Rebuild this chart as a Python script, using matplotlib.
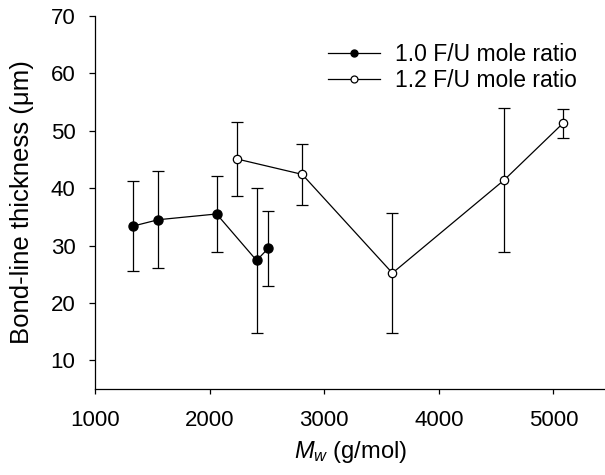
import matplotlib
matplotlib.use("Agg")
import matplotlib.pyplot as plt
from matplotlib.lines import Line2D

plt.rcParams['font.family'] = ['Liberation Sans', 'DejaVu Sans']
plt.rcParams['mathtext.fontset'] = 'custom'
plt.rcParams['mathtext.rm'] = 'Liberation Sans'
plt.rcParams['mathtext.it'] = 'Liberation Sans:italic'

mw_10 = [1334, 1552, 2061, 2410, 2511]
thk_10 = [33.4, 34.5, 35.5, 27.4, 29.5]
err_10 = [7.8, 8.5, 6.6, 12.6, 6.5]

mw_12 = [2235, 2808, 3595, 4569, 5083]
thk_12 = [45.1, 42.4, 25.2, 41.4, 51.3]
err_12 = [6.5, 5.3, 10.5, 12.5, 2.5]

labels = ['1.0 F/U mole ratio', '1.2 F/U mole ratio']
xticks = [1000, 2000, 3000, 4000, 5000]
yticks = [10, 20, 30, 40, 50, 60, 70]

fig = plt.figure(figsize=(6.05, 4.75), dpi=100)
ax = fig.add_axes([95/605, 1-389/475, 1-95/605, (389-16)/475])

ax.errorbar(mw_10, thk_10, yerr=err_10, color='black', marker='o', ms=6.5,
            mfc='black', mec='black', lw=0.9, elinewidth=0.9, capsize=4.5,
            capthick=0.9, zorder=3)
ax.errorbar(mw_12, thk_12, yerr=err_12, color='black', marker='o', ms=6,
            mfc='white', mec='black', mew=0.9, lw=0.9, elinewidth=0.9,
            capsize=4.5, capthick=0.9, zorder=3)

ax.set_xlim(1000, 5450)
ax.set_ylim(5, 70)
ax.set_xticks(xticks)
ax.set_yticks(yticks)
ax.spines['top'].set_visible(False)
ax.spines['right'].set_visible(False)
for s in ['left', 'bottom']:
    ax.spines[s].set_linewidth(0.9)
ax.tick_params(axis='x', direction='out', length=3.8, width=0.9, labelsize=16, pad=11)
ax.tick_params(axis='y', direction='out', length=4, width=0.9, labelsize=16, pad=10)
ax.set_xlabel(r'$M_w$ (g/mol)', fontsize=17, labelpad=6)
ax.set_ylabel('Bond-line thickness (\u03bcm)', fontsize=18.5, labelpad=12)

handles = [
    Line2D([], [], color='black', lw=0.9, marker='o', ms=5, mfc='black', mec='black'),
    Line2D([], [], color='black', lw=0.9, marker='o', ms=5, mfc='white', mec='black', mew=0.9),
]
leg = ax.legend(handles, labels, loc='upper left',
                bbox_to_anchor=(328/605, 1-43/475), bbox_transform=fig.transFigure,
                frameon=False, fontsize=16.5, handlelength=2.27, handletextpad=0.65,
                labelspacing=0.15, borderpad=0, borderaxespad=0)

fig.savefig('out.png', dpi=100)
